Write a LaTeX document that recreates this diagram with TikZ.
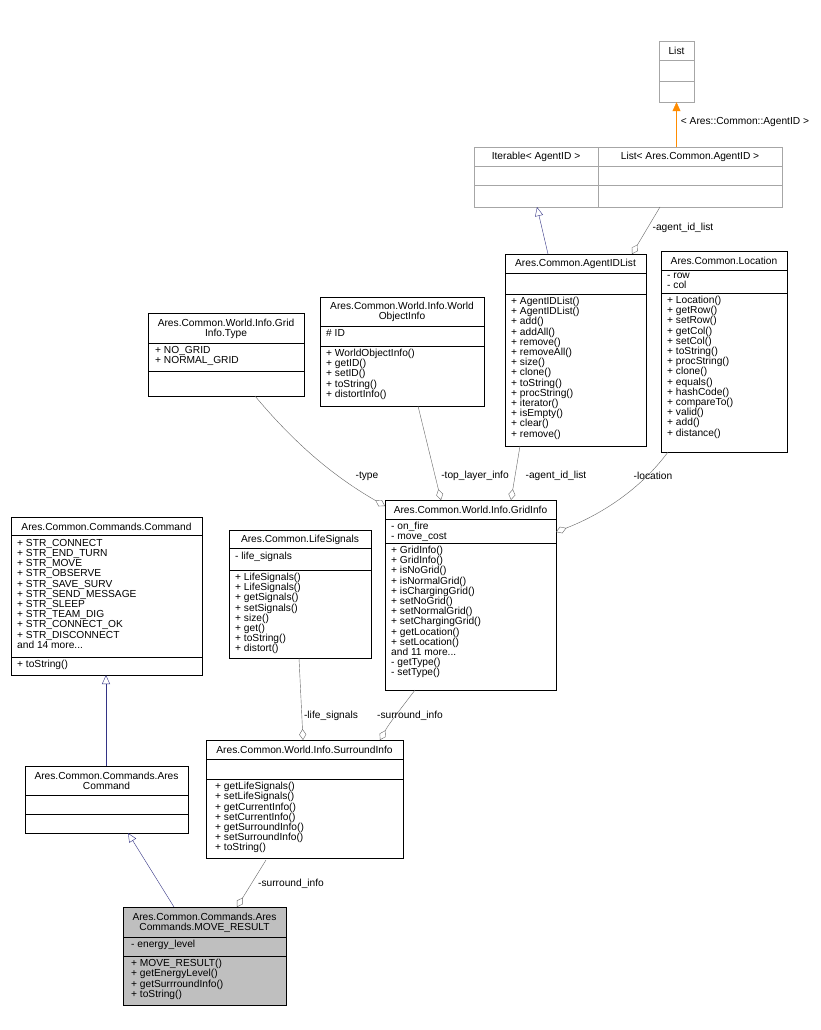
\documentclass[tikz,border=0pt]{standalone}
\usepackage{fontspec}
\setmainfont{Liberation Sans}
\usetikzlibrary{arrows.meta}
\begin{document}
\begin{tikzpicture}[x=1pt,y=-1pt,
  txt/.style={inner sep=0pt,font=\fontsize{10.2}{10.2}\selectfont,align=left,anchor=north west},
  hd/.style={inner sep=0pt,font=\fontsize{10.2}{10.2}\selectfont,align=center},
  lbl/.style={inner sep=0pt,font=\fontsize{10.2}{10.2}\selectfont},
  inh/.style={draw=blue!40!black!80,-{Triangle[open,length=9pt,width=8pt]}},
  agg/.style={draw=black!60,-{Diamond[open,length=11pt,width=7pt]}},
  tpl/.style={draw=orange!90!yellow,-{Triangle[length=9pt,width=8pt,fill=orange!90!yellow]}}]
\useasboundingbox (0,0) rectangle (820,1030);
\fill[white] (0,0) rectangle (820,1030);
\newcommand\cbox[6][black]{%
  \node[draw=#1,fill=white,inner sep=0pt,minimum width={#4-#2},minimum height={#5-#3}] (#6) at ({(#2+#4)/2},{(#3+#5)/2}) {};}
\newcommand\sep[4][black]{\draw[#1] (#2,#4) -- (#3,#4);}
% List
\cbox[black!35]{659}{41}{694}{102}{list}
\sep[black!35]{659}{694}{60}\sep[black!35]{659}{694}{81}
\node[hd] at (676.5,50.5) {List};
% Iterable
\cbox[black!35]{474}{147}{598}{207}{iter}
\sep[black!35]{474}{598}{166}\sep[black!35]{474}{598}{185}
\node[hd] at (536,156.5) {Iterable< AgentID >};
% List<AgentID>
\cbox[black!35]{598}{147}{782}{207}{listaid}
\sep[black!35]{598}{782}{166}\sep[black!35]{598}{782}{185}
\node[hd] at (690,156.5) {List< Ares.Common.AgentID >};
% AgentIDList
\cbox{505}{254}{646}{446}{aidl}
\sep{505}{646}{273}\sep{505}{646}{294}
\node[hd] at (575.5,264) {Ares.Common.AgentIDList};
\node[txt] at (511,297) {+ AgentIDList()\\+ AgentIDList()\\+ add()\\+ addAll()\\+ remove()\\+ removeAll()\\+ size()\\+ clone()\\+ toString()\\+ procString()\\+ iterator()\\+ isEmpty()\\+ clear()\\+ remove()};
% Location
\cbox{661}{251}{787}{452}{loc}
\sep{661}{787}{270}\sep{661}{787}{293}
\node[hd] at (724,261) {Ares.Common.Location};
\node[txt] at (667,273) {- row\\- col};
\node[txt] at (667,296) {+ Location()\\+ getRow()\\+ setRow()\\+ getCol()\\+ setCol()\\+ toString()\\+ procString()\\+ clone()\\+ equals()\\+ hashCode()\\+ compareTo()\\+ valid()\\+ add()\\+ distance()};
% GridInfo.Type
\cbox{148}{313}{304}{396}{gtype}
\sep{148}{304}{343}\sep{148}{304}{371}
\node[hd] at (226,328.5) {Ares.Common.World.Info.Grid\\Info.Type};
\node[txt] at (155,346) {+ NO\_GRID\\+ NORMAL\_GRID};
% WorldObjectInfo
\cbox{320}{297}{484}{406}{woi}
\sep{320}{484}{326}\sep{320}{484}{346}
\node[hd] at (402,312) {Ares.Common.World.Info.World\\ObjectInfo};
\node[txt] at (326,329) {\# ID};
\node[txt] at (326,349) {+ WorldObjectInfo()\\+ getID()\\+ setID()\\+ toString()\\+ distortInfo()};
% GridInfo
\cbox{385}{500}{556}{690}{grid}
\sep{385}{556}{519}\sep{385}{556}{543}
\node[hd] at (470.5,510) {Ares.Common.World.Info.GridInfo};
\node[txt] at (391,522) {- on\_fire\\- move\_cost};
\node[txt] at (391,546) {+ GridInfo()\\+ GridInfo()\\+ isNoGrid()\\+ isNormalGrid()\\+ isChargingGrid()\\+ setNoGrid()\\+ setNormalGrid()\\+ setChargingGrid()\\+ getLocation()\\+ setLocation()\\and 11 more...\\- getType()\\- setType()};
% Command
\cbox{11}{517}{202}{675}{cmd}
\sep{11}{202}{535}\sep{11}{202}{657}
\node[hd] at (106.5,526.5) {Ares.Common.Commands.Command};
\node[txt] at (17,539) {+ STR\_CONNECT\\+ STR\_END\_TURN\\+ STR\_MOVE\\+ STR\_OBSERVE\\+ STR\_SAVE\_SURV\\+ STR\_SEND\_MESSAGE\\+ STR\_SLEEP\\+ STR\_TEAM\_DIG\\+ STR\_CONNECT\_OK\\+ STR\_DISCONNECT\\and 14 more...};
\node[txt] at (17,660) {+ toString()};
% LifeSignals
\cbox{229}{530}{371}{658}{life}
\sep{229}{371}{548}\sep{229}{371}{570}
\node[hd] at (300,539.5) {Ares.Common.LifeSignals};
\node[txt] at (235,552) {- life\_signals};
\node[txt] at (235,573) {+ LifeSignals()\\+ LifeSignals()\\+ getSignals()\\+ setSignals()\\+ size()\\+ get()\\+ toString()\\+ distort()};
% SurroundInfo
\cbox{206}{740}{403}{858}{sur}
\sep{206}{403}{759}\sep{206}{403}{779}
\node[hd] at (304.5,750) {Ares.Common.World.Info.SurroundInfo};
\node[txt] at (215,782) {+ getLifeSignals()\\+ setLifeSignals()\\+ getCurrentInfo()\\+ setCurrentInfo()\\+ getSurroundInfo()\\+ setSurroundInfo()\\+ toString()};
% AresCommand
\cbox{25}{766}{188}{833}{ares}
\sep{25}{188}{795}\sep{25}{188}{814}
\node[hd] at (106.5,781) {Ares.Common.Commands.Ares\\Command};
% MOVE_RESULT
\node[draw,fill=black!25,inner sep=0pt,minimum width=163,minimum height=98] (mr) at (204.5,956) {};
\draw (123,937) -- (286,937); \draw (123,956) -- (286,956);
\node[hd] at (204.5,922.5) {Ares.Common.Commands.Ares\\Commands.MOVE\_RESULT};
\node[txt] at (131,940) {- energy\_level};
\node[txt] at (131,959) {+ MOVE\_RESULT()\\+ getEnergyLevel()\\+ getSurrroundInfo()\\+ toString()};
% edges
\draw[tpl] (listaid.north -| list.south) -- (list.south);
\node[lbl] at (745,122) {< Ares::Common::AgentID >};
\draw[inh] (548,254) -- (537,207);
\draw[agg] (660,207) -- (632,254);
\node[lbl] at (683,228) {-agent\_id\_list};
\draw[agg] (255,396) .. controls (300,450) and (340,480) .. (385,506);
\node[lbl] at (367,476) {-type};
\draw[agg] (418,406) -- (441,500);
\node[lbl] at (475,476) {-top\_layer\_info};
\draw[agg] (520,446) -- (511,500);
\node[lbl] at (556,476) {-agent\_id\_list};
\draw[agg] (668,452) .. controls (640,490) and (600,515) .. (556,532);
\node[lbl] at (653,476) {-location};
\draw[agg] (299,658) -- (303,740);
\node[lbl] at (331,716) {-life\_signals};
\draw[agg] (415,690) .. controls (400,710) and (390,722) .. (380,740);
\node[lbl] at (410,716) {-surround\_info};
\draw[inh] (106,766) -- (106,675);
\draw[inh] (174,907) -- (128,833);
\draw[agg] (266,860) -- (237,907);
\node[lbl] at (291,884) {-surround\_info};
\end{tikzpicture}
\end{document}
